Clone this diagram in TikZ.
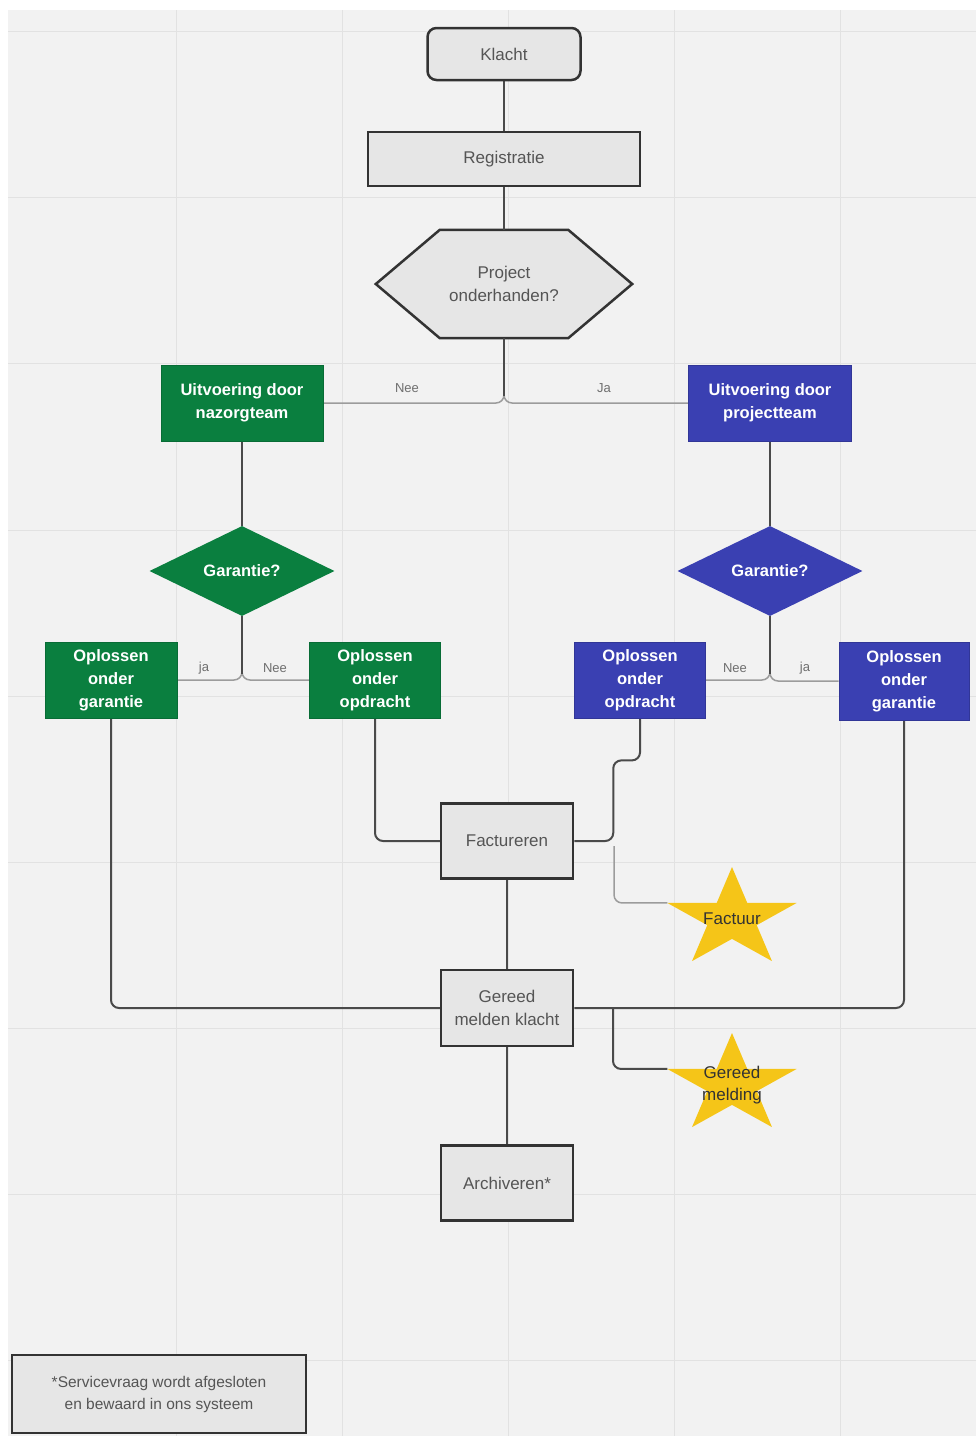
\documentclass[tikz,border=0pt]{standalone}
\usepackage{fontspec}
\setmainfont{Liberation Sans}
\usetikzlibrary{calc,shapes.geometric}
\definecolor{bgc}{HTML}{F2F2F2}
\definecolor{gridc}{HTML}{E2E2E2}
\definecolor{boxfill}{HTML}{E6E6E6}
\definecolor{boxline}{HTML}{333333}
\definecolor{txtgray}{HTML}{555555}
\definecolor{grn}{HTML}{0A7F3F}
\definecolor{blu}{HTML}{3A40B2}
\definecolor{stary}{HTML}{F5C518}
\definecolor{darkline}{HTML}{4A4A4A}
\definecolor{lightline}{HTML}{9C9C9C}
\pgfdeclarelayer{gridlayer}
\pgfdeclarelayer{shapelayer}
\pgfsetlayers{gridlayer,shapelayer,main}
\tikzset{
  graybox/.style={draw=boxline, line width=2.5pt, fill=boxfill, text=txtgray,
    font=\fontsize{17}{23}\selectfont, align=center, inner sep=0pt},
  colbox/.style={text=white, font=\bfseries\fontsize{16.5}{23}\selectfont,
    align=center, inner sep=0pt},
  grnbox/.style={colbox, fill=grn, draw=grn!85!black, line width=0.8pt},
  blubox/.style={colbox, fill=blu, draw=blu!85!black, line width=0.8pt},
  decision/.style={diamond, aspect=2.05, inner sep=0pt, minimum width=185pt,
    minimum height=90pt, text=white, font=\bfseries\fontsize{16.5}{20}\selectfont},
  hexnode/.style={minimum width=256pt, minimum height=108pt, inner sep=0pt,
    align=center, text=txtgray, font=\fontsize{17}{23}\selectfont},
  hexshape/.style={draw=boxline, line width=2.5pt, fill=boxfill},
  starnode/.style={inner sep=0pt, align=center, text=black!80,
    font=\fontsize{17}{22}\selectfont},
  starshape/.style={fill=stary},
  conn/.style={draw=darkline, line width=2pt, rounded corners=8pt},
  lightconn/.style={draw=lightline, line width=1.5pt, rounded corners=8pt},
  lbl/.style={text=txtgray!85, font=\fontsize{13}{15}\selectfont, inner sep=1pt},
}
\newcommand\drawmystar[1]{%
  \fill[starshape] ($(#1)+(90:68pt and 52pt)$) -- ($(#1)+(126:26pt and 19.86pt)$)
   -- ($(#1)+(162:68pt and 52pt)$) -- ($(#1)+(198:26pt and 19.86pt)$)
   -- ($(#1)+(234:68pt and 52pt)$) -- ($(#1)+(270:26pt and 19.86pt)$)
   -- ($(#1)+(306:68pt and 52pt)$) -- ($(#1)+(342:26pt and 19.86pt)$)
   -- ($(#1)+(18:68pt and 52pt)$) -- ($(#1)+(54:26pt and 19.86pt)$) -- cycle;}
\begin{document}
\begin{tikzpicture}[x=1pt,y=-1pt]
\useasboundingbox (0,0) rectangle (976,1436);
\begin{pgfonlayer}{gridlayer}
  \fill[white] (0,0) rectangle (976,1436);
  \fill[bgc] (8,10) rectangle (976,1436);
  \foreach \gx in {176,342,508,674,840} {\draw[gridc, line width=1pt] (\gx,10) -- (\gx,1436);}
  \foreach \gy in {31,197,363,530,696,862,1028,1194,1360} {\draw[gridc, line width=1pt] (8,\gy) -- (976,\gy);}
\end{pgfonlayer}

% top part
\node[graybox, rounded corners=9pt, minimum width=153pt, minimum height=52pt] (klacht) at (504,54) {Klacht};
\node[graybox, minimum width=272pt, minimum height=54pt] (reg) at (504,159) {Registratie};
\node[hexnode] (proj) at (504,284) {Project\\onderhanden?};
\begin{pgfonlayer}{shapelayer}
  \filldraw[hexshape] (proj.west) -- ($(proj.north west)+(64pt,0pt)$) -- ($(proj.north east)+(-64pt,0pt)$)
    -- (proj.east) -- ($(proj.south east)+(-64pt,0pt)$) -- ($(proj.south west)+(64pt,0pt)$) -- cycle;
\end{pgfonlayer}

% teams
\node[grnbox, minimum width=162pt, minimum height=76pt] (nazorg) at (242,403) {Uitvoering door\\nazorgteam};
\node[blubox, minimum width=163pt, minimum height=76pt] (projteam) at (770,403) {Uitvoering door\\projectteam};

% decisions
\node[decision, fill=grn] (gdec) at (242,571) {Garantie?};
\node[decision, fill=blu] (bdec) at (770,571) {Garantie?};

% solutions
\node[grnbox, minimum width=132pt, minimum height=76pt] (ggar) at (111,680) {Oplossen\\onder\\garantie};
\node[grnbox, minimum width=131pt, minimum height=76pt] (gopd) at (375,680) {Oplossen\\onder\\opdracht};
\node[blubox, minimum width=131pt, minimum height=76pt] (bopd) at (640,680) {Oplossen\\onder\\opdracht};
\node[blubox, minimum width=130pt, minimum height=78pt] (bgar) at (904,681) {Oplossen\\onder\\garantie};

% lower boxes
\node[graybox, minimum width=132pt, minimum height=75pt] (fact) at (507,841) {Factureren};
\node[graybox, minimum width=132pt, minimum height=76pt] (gereed) at (507,1008) {Gereed\\melden klacht};
\node[graybox, minimum width=132pt, minimum height=75pt] (arch) at (507,1183) {Archiveren*};

% stars
\node[starnode] (sfact) at (732,919) {Factuur};
\node[starnode] (sgereed) at (732,1085) {Gereed\\melding};
\begin{pgfonlayer}{shapelayer}
  \drawmystar{sfact.center}
  \drawmystar{sgereed.center}
\end{pgfonlayer}
\coordinate (sfactw) at ($(sfact.center)+(162:68pt and 52pt)$);
\coordinate (sgereedw) at ($(sgereed.center)+(162:68pt and 52pt)$);

% note
\node[graybox, minimum width=294pt, minimum height=78pt, font=\fontsize{15.5}{22}\selectfont] (note) at (159,1394) {*Servicevraag wordt afgesloten\\en bewaard in ons systeem};

% connectors
\begin{pgfonlayer}{shapelayer}
\draw[conn] (klacht) -- (reg);
\draw[conn] (reg) -- (proj.north);
\draw[lightconn] (proj.south) |- (nazorg.east);
\draw[lightconn] (proj.south) |- (projteam.west);
\draw[conn, rounded corners=0pt] (proj.south) -- ++(0,58);
\draw[conn] (nazorg) -- (gdec.north);
\draw[conn] (projteam) -- (bdec.north);
\draw[lightconn] (gdec.south) |- (ggar.east);
\draw[lightconn] (gdec.south) |- (gopd.west);
\draw[conn, rounded corners=0pt] (gdec.south) -- ++(0,58);
\draw[lightconn] (bdec.south) |- (bopd.east);
\draw[lightconn] (bdec.south) |- (bgar.west);
\draw[conn, rounded corners=0pt] (bdec.south) -- ++(0,58);
\draw[conn] (gopd.south) |- (fact.west);
\draw[conn] (bopd.south) -- ++(0,42) -| ($(fact.east)+(39pt,0pt)$) -- (fact.east);
\draw[conn] (fact) -- (gereed);
\draw[conn] (gereed) -- (arch);
\draw[conn] (ggar.south) |- (gereed.west);
\draw[conn] (bgar.south) |- (gereed.east);
\coordinate (factstart) at (614,846);
\draw[lightconn] (factstart) |- (sfactw);
\draw[conn] (613,1008) |- (sgereedw);
\end{pgfonlayer}

% labels
\node[lbl] (lnee1) at (407,388) {Nee};
\node[lbl] (lja1) at (604,388) {Ja};
\node[lbl] (lja2) at (204,668) {ja};
\node[lbl] (lnee2) at (275,668) {Nee};
\node[lbl] (lnee3) at (735,668) {Nee};
\node[lbl] (lja3) at (805,668) {ja};
\end{tikzpicture}
\end{document}
